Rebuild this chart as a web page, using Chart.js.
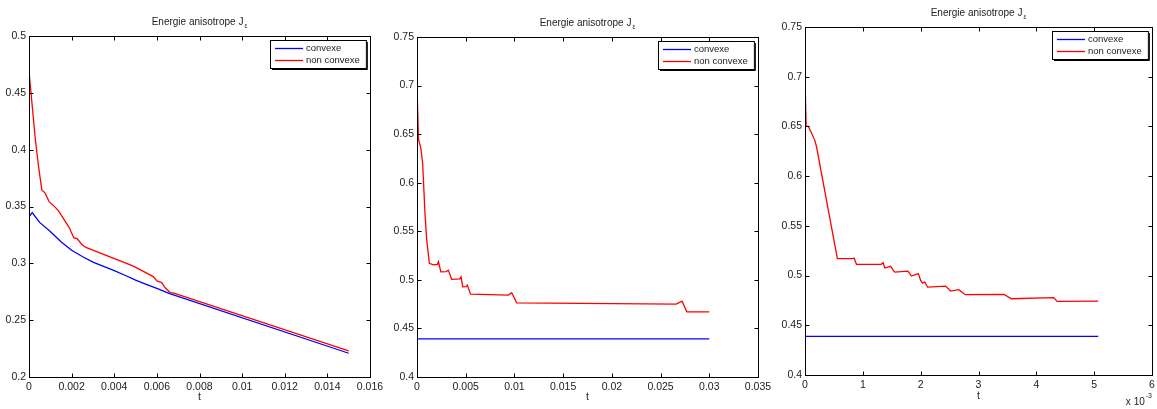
<!DOCTYPE html>
<html>
<head>
<meta charset="utf-8">
<script src="https://cdn.jsdelivr.net/npm/chart.js@4.4.0/dist/chart.umd.min.js"></script>
<style>
  html, body { margin: 0; padding: 0; background: #fff; }
  #wrap { position: relative; width: 1157px; height: 409px; overflow: hidden; }
  #wrap canvas { position: absolute; left: 0; top: 0; }
</style>
</head>
<body>
<div id="wrap">
  <canvas id="c1" width="1157" height="409"></canvas>
  <canvas id="c2" width="1157" height="409"></canvas>
  <canvas id="c3" width="1157" height="409"></canvas>
</div>
<script>
// --- data ---
const seriesNames = ['convexe', 'non convexe'];
const seriesColors = ['#0000ff', '#ff0000'];
const titleText = 'Energie anisotrope J';
const titleSub = 'ε';

// panel 1
const p1ConvT = [0, 0.00015, 0.0005, 0.001, 0.0015, 0.002, 0.0025, 0.003, 0.0035, 0.004, 0.0045, 0.005, 0.0055, 0.006, 0.0066, 0.015];
const p1ConvY = [0.341, 0.3446, 0.336, 0.328, 0.319, 0.3115, 0.306, 0.301, 0.2973, 0.2935, 0.2895, 0.2852, 0.2815, 0.278, 0.2734, 0.2209];
const p1NonT = [0, 0.0003, 0.00044, 0.0006, 0.00075, 0.00095, 0.00114, 0.00138, 0.0017, 0.00188, 0.0021, 0.00227, 0.00247, 0.00267, 0.0049, 0.00583, 0.006, 0.00623, 0.00638, 0.00662, 0.0068, 0.015];
const p1NonY = [0.469, 0.4085, 0.3865, 0.3646, 0.362, 0.354, 0.351, 0.3464, 0.337, 0.3317, 0.3226, 0.3215, 0.3168, 0.314, 0.2975, 0.2883, 0.2846, 0.2831, 0.2787, 0.2743, 0.2737, 0.2229];
const p1XTicks = [0, 0.002, 0.004, 0.006, 0.008, 0.01, 0.012, 0.014, 0.016];
const p1YTicks = [0.2, 0.25, 0.3, 0.35, 0.4, 0.45, 0.5];

// panel 2
const p2ConvT = [0, 0.015, 0.03];
const p2ConvY = [0.4392, 0.4393, 0.4393];
const p2NonT = [0, 0.00015, 0.0004, 0.00058, 0.00082, 0.001, 0.00127, 0.00168, 0.0021, 0.0022, 0.00245, 0.003, 0.00322, 0.00356, 0.0044, 0.00452, 0.0047, 0.00505, 0.00516, 0.0055, 0.00938, 0.00972, 0.01023, 0.0266, 0.0272, 0.0277, 0.03];
const p2NonY = [0.70, 0.645, 0.635, 0.620, 0.568, 0.541, 0.517, 0.5155, 0.516, 0.5186, 0.5083, 0.5085, 0.510, 0.5005, 0.501, 0.503, 0.4928, 0.493, 0.4946, 0.4853, 0.4843, 0.4867, 0.4764, 0.475, 0.4781, 0.4671, 0.4671];
const p2XTicks = [0, 0.005, 0.01, 0.015, 0.02, 0.025, 0.03, 0.035];
const p2YTicks = [0.4, 0.45, 0.5, 0.55, 0.6, 0.65, 0.7, 0.75];

// panel 3 (t in units of 1e-3)
const p3ConvT = [0, 2.5, 5.07];
const p3ConvY = [0.4389, 0.4389, 0.4389];
const p3NonT = [0, 0.02, 0.06, 0.1, 0.17, 0.2, 0.56, 0.8, 0.85, 0.89, 1.32, 1.35, 1.38, 1.48, 1.55, 1.78, 1.84, 1.96, 2.0, 2.03, 2.07, 2.12, 2.43, 2.52, 2.66, 2.77, 3.44, 3.57, 4.30, 4.36, 5.07];
const p3NonY = [0.6967, 0.650, 0.650, 0.645, 0.636, 0.6293, 0.517, 0.517, 0.5175, 0.5113, 0.5113, 0.513, 0.5076, 0.5093, 0.5035, 0.5045, 0.4995, 0.502, 0.4952, 0.4925, 0.4935, 0.4884, 0.4894, 0.4844, 0.4858, 0.4808, 0.4811, 0.4767, 0.4778, 0.474, 0.4743];
const p3XTicks = [0, 1, 2, 3, 4, 5, 6];
const p3YTicks = [0.4, 0.45, 0.5, 0.55, 0.6, 0.65, 0.7, 0.75];

const W = 1157, H = 409;
const TXT = '#222';
const FONT = '"Liberation Sans", Arial, Helvetica, sans-serif';

function pts(ts, ys) {
  return ts.map((t, i) => ({ x: t, y: ys[i] }));
}
function fmt(v) {
  return String(+v.toFixed(5));
}

// box, inward ticks, title and legend like the matlab figure
const matlabFrame = {
  id: 'matlabFrame',
  afterDraw(chart, args, opts) {
    const { ctx, chartArea: a, scales } = chart;
    ctx.save();
    ctx.strokeStyle = '#000';
    ctx.lineWidth = 1;
    const L = Math.round(a.left) + 0.5, R = Math.round(a.right) + 0.5;
    const T = Math.round(a.top) + 0.5, B = Math.round(a.bottom) + 0.5;
    ctx.strokeRect(L, T, R - L, B - T);
    ctx.beginPath();
    opts.xTicks.forEach(v => {
      const px = Math.round(scales.x.getPixelForValue(v)) + 0.5;
      ctx.moveTo(px, B); ctx.lineTo(px, B - 4);
      ctx.moveTo(px, T); ctx.lineTo(px, T + 4);
    });
    opts.yTicks.forEach(v => {
      const py = Math.round(scales.y.getPixelForValue(v)) + 0.5;
      ctx.moveTo(L, py); ctx.lineTo(L + 4, py);
      ctx.moveTo(R, py); ctx.lineTo(R - 4, py);
    });
    ctx.stroke();

    // title with subscript
    ctx.fillStyle = TXT;
    ctx.textBaseline = 'alphabetic';
    ctx.textAlign = 'left';
    ctx.font = '10px ' + FONT;
    const w1 = ctx.measureText(titleText).width;
    ctx.font = '6.5px ' + FONT;
    const w2 = ctx.measureText(titleSub).width;
    const cx = (a.left + a.right) / 2;
    const x0 = cx - (w1 + w2 + 1) / 2;
    const by = a.top - 11;
    ctx.font = '10px ' + FONT;
    ctx.fillText(titleText, x0, by);
    ctx.font = '6.5px ' + FONT;
    ctx.fillText(titleSub, x0 + w1 + 1, by + 3);

    // legend
    ctx.font = '9.5px ' + FONT;
    const tw = Math.max(...seriesNames.map(s => ctx.measureText(s).width));
    const lw = 36 + tw + 6, lh = 28;
    const lx = Math.round(a.right - 4 - lw), ly = Math.round(a.top + 4);
    ctx.fillStyle = '#fff';
    ctx.fillRect(lx, ly, lw, lh);
    ctx.strokeStyle = '#000';
    ctx.lineWidth = 1;
    ctx.strokeRect(lx + 0.5, ly + 0.5, lw, lh);
    ctx.beginPath();
    ctx.moveTo(lx + lw + 1.5, ly + 2);
    ctx.lineTo(lx + lw + 1.5, ly + lh + 1.5);
    ctx.lineTo(lx + 2, ly + lh + 1.5);
    ctx.stroke();
    seriesNames.forEach((name, i) => {
      const ry = ly + 8.5 + i * 12;
      ctx.strokeStyle = seriesColors[i];
      ctx.lineWidth = 1.3;
      ctx.beginPath();
      ctx.moveTo(lx + 5, ry); ctx.lineTo(lx + 33, ry);
      ctx.stroke();
      ctx.fillStyle = TXT;
      ctx.textBaseline = 'middle';
      ctx.fillText(name, lx + 36, ry);
    });

    // exponent label under the x axis
    if (opts.xExp) {
      ctx.fillStyle = TXT;
      ctx.textBaseline = 'alphabetic';
      ctx.font = '10px ' + FONT;
      const base = 'x 10';
      const bw = ctx.measureText(base).width;
      ctx.font = '7px ' + FONT;
      const ew = ctx.measureText(opts.xExp).width;
      const ex = a.right - ew;
      ctx.font = '10px ' + FONT;
      ctx.fillText(base, ex - bw - 1, 405);
      ctx.font = '7px ' + FONT;
      ctx.fillText(opts.xExp, ex, 398);
    }
    ctx.restore();
  }
};

function makePanel(id, p) {
  const yW = 30;
  const xH = H - p.area.bottom;
  return new Chart(document.getElementById(id), {
    type: 'line',
    data: {
      datasets: [
        { label: seriesNames[0], data: pts(p.convT, p.convY), borderColor: seriesColors[0], borderWidth: 1.3, pointRadius: 0, tension: 0, fill: false },
        { label: seriesNames[1], data: pts(p.nonT, p.nonY), borderColor: seriesColors[1], borderWidth: 1.3, pointRadius: 0, tension: 0, fill: false }
      ]
    },
    options: {
      responsive: false,
      animation: false,
      events: [],
      layout: { padding: { left: p.area.left - yW, right: W - p.area.right, top: p.area.top, bottom: 0 } },
      plugins: {
        legend: { display: false },
        title: { display: false },
        tooltip: { enabled: false },
        matlabFrame: { xTicks: p.xTicks, yTicks: p.yTicks, xExp: p.xExp }
      },
      scales: {
        x: {
          type: 'linear',
          min: p.xTicks[0], max: p.xTicks[p.xTicks.length - 1],
          afterBuildTicks: s => { s.ticks = p.xTicks.map(v => ({ value: v })); },
          afterFit: s => { s.height = xH; s.paddingLeft = 0; s.paddingRight = 0; s.paddingTop = 0; s.paddingBottom = 0; },
          grid: { display: false, drawTicks: false },
          border: { display: false },
          ticks: { autoSkip: false, maxRotation: 0, padding: 4, color: TXT, font: { family: FONT, size: 10.5 }, callback: v => fmt(v) },
          title: { display: true, text: 't', color: TXT, font: { family: FONT, size: 10.5 }, padding: { top: 0, bottom: 403 - p.tY } }
        },
        y: {
          type: 'linear',
          min: p.yTicks[0], max: p.yTicks[p.yTicks.length - 1],
          afterBuildTicks: s => { s.ticks = p.yTicks.map(v => ({ value: v })); },
          afterFit: s => { s.width = yW; s.paddingLeft = 0; s.paddingRight = 0; s.paddingTop = 0; s.paddingBottom = 0; },
          grid: { display: false, drawTicks: false },
          border: { display: false },
          ticks: { autoSkip: false, padding: 3, color: TXT, font: { family: FONT, size: 10.5 }, callback: v => fmt(v) }
        }
      }
    },
    plugins: [matlabFrame]
  });
}

makePanel('c1', {
  area: { left: 29, right: 370, top: 36, bottom: 377 },
  convT: p1ConvT, convY: p1ConvY, nonT: p1NonT, nonY: p1NonY,
  xTicks: p1XTicks, yTicks: p1YTicks, tY: 397
});
makePanel('c2', {
  area: { left: 417, right: 758, top: 37, bottom: 377 },
  convT: p2ConvT, convY: p2ConvY, nonT: p2NonT, nonY: p2NonY,
  xTicks: p2XTicks, yTicks: p2YTicks, tY: 397
});
makePanel('c3', {
  area: { left: 805, right: 1152, top: 27, bottom: 375 },
  convT: p3ConvT, convY: p3ConvY, nonT: p3NonT, nonY: p3NonY,
  xTicks: p3XTicks, yTicks: p3YTicks, tY: 396, xExp: '-3'
});
</script>
</body>
</html>
